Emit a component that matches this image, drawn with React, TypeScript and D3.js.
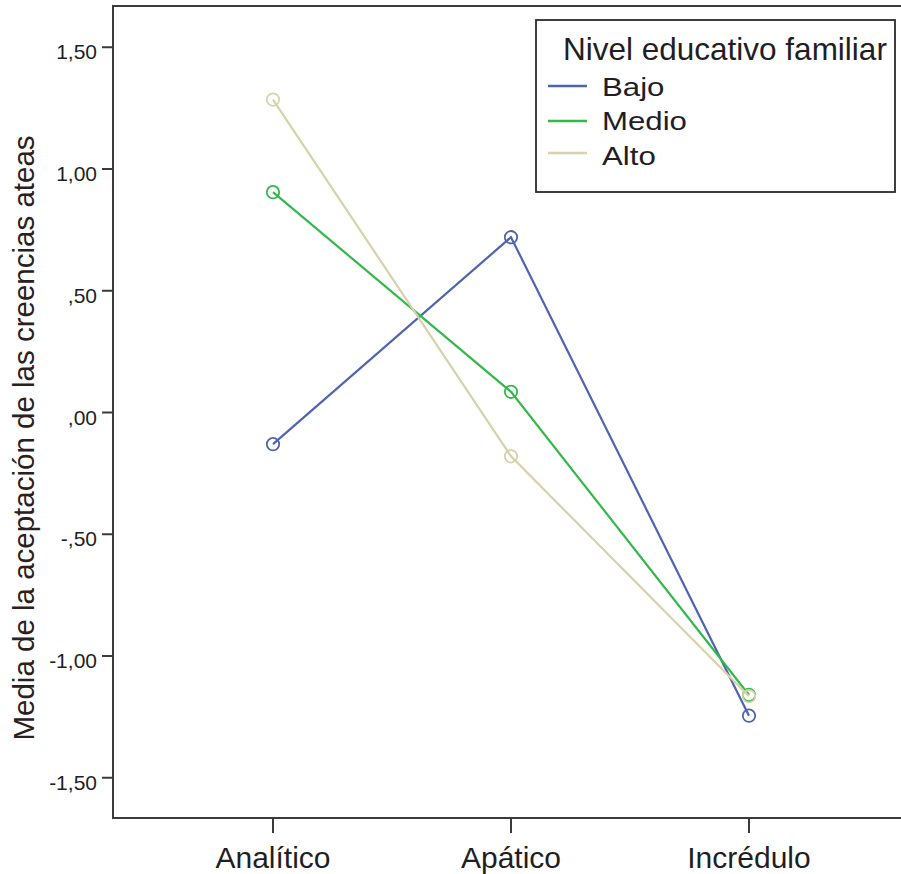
import React from "react";
import * as d3 from "d3";

const categories = ["Analítico", "Apático", "Incrédulo"];
const seriesNames = ["Bajo", "Medio", "Alto"];
const bajo = [-0.13, 0.72, -1.245];
const medio = [0.905, 0.085, -1.16];
const alto = [1.285, -0.18, -1.165];
const yTicks = [1.5, 1.0, 0.5, 0.0, -0.5, -1.0, -1.5];
const yTickLabels = ["1,50", "1,00", ",50", ",00", "-,50", "-1,00", "-1,50"];
const legendTitle = "Nivel educativo familiar";
const yTitle = "Media de la aceptación de las creencias ateas";

const colors = ["#4f64b0", "#35b84b", "#d6d2aa"];
const seriesValues = [bajo, medio, alto];

export default function App() {
  const W = 901, H = 874;
  const left = 113, top = 6, right = 903, bottom = 818;
  const y = d3.scaleLinear().domain([0, 1]).range([412.5, 169]);
  const x = d3.scalePoint<string>().domain(categories).range([273, 749]);
  const line = d3.line<number>().x((_, i) => x(categories[i])!).y((v) => y(v));
  const textColor = "#1e1e24";
  const font = "Arial, 'Liberation Sans', sans-serif";

  const legX = 536, legY = 20, legW = 359, legH = 172;
  const entryLineY = [86, 121, 153];
  const entryBase = [96, 130, 165];

  return (
    <svg width={W} height={H} style={{ position: "absolute", left: 0, top: 0, background: "#fff" }} fontFamily={font}>
      <rect x={0} y={0} width={W} height={H} fill="#fff" />
      {/* frame */}
      <path d={`M${right},${top}H${left}V${bottom}H${right}`} fill="none" stroke="#3a3a3a" strokeWidth={2} />
      {/* y ticks */}
      {yTicks.map((t, i) => (
        <g key={i}>
          <line x1={left - 11} x2={left} y1={y(t)} y2={y(t)} stroke="#3a3a3a" strokeWidth={2} />
          <text x={97} y={y(t) + 12} textAnchor="end" fontSize={21} fill={textColor}>
            {yTickLabels[i]}
          </text>
        </g>
      ))}
      {/* x ticks */}
      {categories.map((c) => (
        <g key={c}>
          <line x1={x(c)} x2={x(c)} y1={bottom} y2={bottom + 15} stroke="#3a3a3a" strokeWidth={2} />
          <text x={x(c)} y={868} textAnchor="middle" fontSize={30} fill={textColor}>
            {c}
          </text>
        </g>
      ))}
      {/* y title */}
      <text transform={`translate(34,438) rotate(-90)`} textAnchor="middle" fontSize={29.5} fill="#2a2020">
        {yTitle}
      </text>
      {/* series */}
      {seriesValues.map((vals, si) => (
        <g key={si}>
          <path d={line(vals)!} fill="none" stroke={colors[si]} strokeWidth={2.2} />
          {vals.map((v, i) => (
            <circle key={i} cx={x(categories[i])} cy={y(v)} r={6.2} fill="none" stroke={colors[si]} strokeWidth={1.8} />
          ))}
        </g>
      ))}
      {/* legend */}
      <rect x={legX} y={legY} width={legW} height={legH} fill="#fff" stroke="#2a2a2a" strokeWidth={1.8} />
      <text x={563} y={60} fontSize={31.5} fill={textColor}>
        {legendTitle}
      </text>
      {seriesNames.map((n, i) => (
        <g key={n}>
          <line x1={548} x2={587} y1={entryLineY[i]} y2={entryLineY[i]} stroke={colors[i]} strokeWidth={2.5} />
          <text transform={`translate(602,${entryBase[i]}) scale(1.2,1)`} fontSize={26} fill={textColor}>
            {n}
          </text>
        </g>
      ))}
    </svg>
  );
}
